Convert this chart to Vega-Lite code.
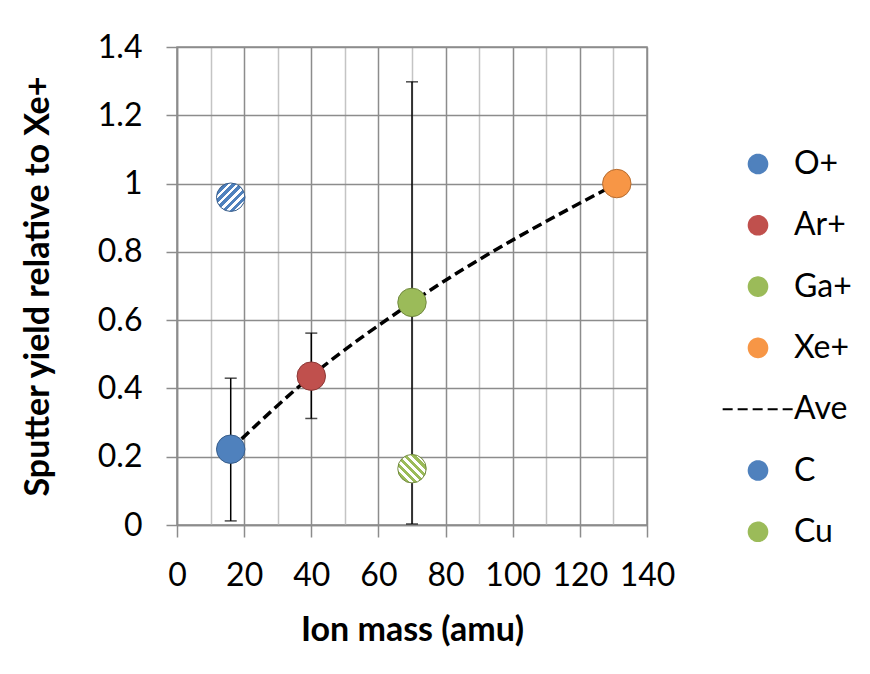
{
  "$schema": "https://vega.github.io/schema/vega-lite/v6.json",
  "width": 470,
  "height": 478,
  "autosize": {"type": "none"},
  "padding": {"left": 177, "top": 47, "right": 223, "bottom": 149},
  "background": "white",
  "config": {
    "view": {"stroke": "#8c8c8c", "strokeWidth": 1.5},
    "font": "Lato",
    "axis": {
      "labelFont": "Lato", "labelFontSize": 32, "labelColor": "#000000",
      "titleFont": "Lato", "titleFontSize": 34, "titleFontWeight": "bold", "titleColor": "#000000",
      "domainColor": "#8c8c8c", "domainWidth": 1.5, "tickWidth": 1.5, "gridWidth": 1.5
    }
  },
  "datasets": {
    "pts": [
      {"series": "O+", "mass": 16, "y": 0.222, "lo": 0.012, "hi": 0.43},
      {"series": "Ar+", "mass": 40, "y": 0.436, "lo": 0.312, "hi": 0.562},
      {"series": "Ga+", "mass": 70, "y": 0.652, "lo": 0.003, "hi": 1.298},
      {"series": "Xe+", "mass": 131, "y": 1.0},
      {"series": "C", "mass": 16, "y": 0.96},
      {"series": "Cu", "mass": 70, "y": 0.165}
    ],
    "ave": [
      {"series": "Ave", "mass": 16, "y": 0.222},
      {"series": "Ave", "mass": 40, "y": 0.436},
      {"series": "Ave", "mass": 70, "y": 0.652},
      {"series": "Ave", "mass": 131, "y": 1.0}
    ]
  },
  "encoding": {
    "x": {
      "field": "mass", "type": "quantitative",
      "scale": {"domain": [0, 140], "nice": false, "zero": false},
      "axis": {
        "title": "Ion mass (amu)",
        "values": [0, 10, 20, 30, 40, 50, 60, 70, 80, 90, 100, 110, 120, 130, 140],
        "labelExpr": "datum.value % 20 === 0 ? datum.label : ''",
        "gridColor": {"condition": {"test": "datum.value % 20 === 0", "value": "#8c8c8c"}, "value": "#c4c4c4"},
        "tickColor": {"condition": {"test": "datum.value % 20 === 0", "value": "#8c8c8c"}, "value": "transparent"},
        "tickSize": 12,
        "labelPadding": 23,
        "titlePadding": 22,
        "labelFlush": false,
        "labelOverlap": false
      }
    },
    "y": {
      "field": "y", "type": "quantitative",
      "scale": {"domain": [0, 1.4], "nice": false},
      "axis": {
        "title": "Sputter yield relative to Xe+",
        "values": [0, 0.2, 0.4, 0.6, 0.8, 1, 1.2, 1.4],
        "format": "~g",
        "gridColor": "#8c8c8c",
        "tickColor": "#8c8c8c",
        "tickSize": 11,
        "labelPadding": 24,
        "titlePadding": 42,
        "labelFlush": false,
        "labelOverlap": false
      }
    }
  },
  "layer": [
    {
      "data": {"name": "pts"},
      "transform": [{"filter": "isValid(datum.lo)"}],
      "mark": {"type": "errorbar", "ticks": {"size": 12, "color": "#000000", "thickness": 1.5}, "rule": {"color": "#000000", "strokeWidth": 1.5}},
      "encoding": {
        "y": {"field": "lo", "type": "quantitative"},
        "y2": {"field": "hi"}
      }
    },
    {
      "data": {"name": "ave"},
      "mark": {"type": "line", "strokeWidth": 3.5, "interpolate": "monotone"},
      "encoding": {
        "color": {"field": "series", "type": "nominal"},
        "strokeDash": {
          "field": "series", "type": "nominal",
          "scale": {
            "domain": ["O+", "Ar+", "Ga+", "Xe+", "Ave", "C", "Cu"],
            "range": [[1, 0], [1, 0], [1, 0], [1, 0], [10, 5], [1, 0], [1, 0]]
          }
        }
      }
    },
    {
      "data": {"name": "pts"},
      "transform": [{"filter": "datum.series !== 'C' && datum.series !== 'Cu'"}],
      "mark": {"type": "point", "filled": true, "size": 810, "strokeWidth": 1, "opacity": 1},
      "encoding": {
        "color": {
          "field": "series", "type": "nominal",
          "scale": {
            "domain": ["O+", "Ar+", "Ga+", "Xe+", "Ave", "C", "Cu"],
            "range": ["#4F81BD", "#C0504D", "#9BBB59", "#F79646", "#000000", "#4F81BD", "#9BBB59"]
          },
          "legend": {
            "title": null,
            "orient": "none",
            "legendX": 565,
            "legendY": 101,
            "labelFont": "Lato",
            "labelFontSize": 32,
            "labelColor": "#000000",
            "symbolSize": 346,
            "symbolStrokeWidth": 2,
            "labelOffset": 20,
            "rowPadding": 29.3
          }
        },
        "shape": {
          "field": "series", "type": "nominal",
          "scale": {
            "domain": ["O+", "Ar+", "Ga+", "Xe+", "Ave", "C", "Cu"],
            "range": ["circle", "circle", "circle", "circle", "M-3.8,0L3.8,0", "circle", "circle"]
          }
        },
        "stroke": {
          "field": "series", "type": "nominal",
          "scale": {
            "domain": ["O+", "Ar+", "Ga+", "Xe+", "Ave", "C", "Cu"],
            "range": ["#385D8A", "#8C3836", "#71893F", "#B66D31", "#000000", "#385D8A", "#71893F"]
          }
        }
      }
    },
    {
      "data": {"name": "pts"},
      "transform": [{"filter": "datum.series === 'C'"}],
      "mark": {"type": "point", "shape": "circle", "size": 810, "strokeWidth": 1, "opacity": 1, "stroke": "#385D8A",
        "fill": {"gradient": "linear", "x1": 0, "y1": 0, "x2": 1, "y2": 1, "stops": [
          {"offset": 0, "color": "#4F81BD"}, {"offset": 0.0786, "color": "#4F81BD"},
          {"offset": 0.0786, "color": "#ffffff"}, {"offset": 0.1429, "color": "#ffffff"},
          {"offset": 0.1429, "color": "#4F81BD"}, {"offset": 0.2214, "color": "#4F81BD"},
          {"offset": 0.2214, "color": "#ffffff"}, {"offset": 0.2857, "color": "#ffffff"},
          {"offset": 0.2857, "color": "#4F81BD"}, {"offset": 0.3643, "color": "#4F81BD"},
          {"offset": 0.3643, "color": "#ffffff"}, {"offset": 0.4286, "color": "#ffffff"},
          {"offset": 0.4286, "color": "#4F81BD"}, {"offset": 0.5071, "color": "#4F81BD"},
          {"offset": 0.5071, "color": "#ffffff"}, {"offset": 0.5714, "color": "#ffffff"},
          {"offset": 0.5714, "color": "#4F81BD"}, {"offset": 0.65, "color": "#4F81BD"},
          {"offset": 0.65, "color": "#ffffff"}, {"offset": 0.7143, "color": "#ffffff"},
          {"offset": 0.7143, "color": "#4F81BD"}, {"offset": 0.7929, "color": "#4F81BD"},
          {"offset": 0.7929, "color": "#ffffff"}, {"offset": 0.8571, "color": "#ffffff"},
          {"offset": 0.8571, "color": "#4F81BD"}, {"offset": 0.9357, "color": "#4F81BD"},
          {"offset": 0.9357, "color": "#ffffff"}, {"offset": 1, "color": "#ffffff"}
        ]}
      },
      "encoding": {}
    },
    {
      "data": {"name": "pts"},
      "transform": [{"filter": "datum.series === 'Cu'"}],
      "mark": {"type": "point", "shape": "circle", "size": 810, "strokeWidth": 1, "opacity": 1, "stroke": "#71893F",
        "fill": {"gradient": "linear", "x1": 0, "y1": 1, "x2": 1, "y2": 0, "stops": [
          {"offset": 0, "color": "#9BBB59"}, {"offset": 0.0786, "color": "#9BBB59"},
          {"offset": 0.0786, "color": "#ffffff"}, {"offset": 0.1429, "color": "#ffffff"},
          {"offset": 0.1429, "color": "#9BBB59"}, {"offset": 0.2214, "color": "#9BBB59"},
          {"offset": 0.2214, "color": "#ffffff"}, {"offset": 0.2857, "color": "#ffffff"},
          {"offset": 0.2857, "color": "#9BBB59"}, {"offset": 0.3643, "color": "#9BBB59"},
          {"offset": 0.3643, "color": "#ffffff"}, {"offset": 0.4286, "color": "#ffffff"},
          {"offset": 0.4286, "color": "#9BBB59"}, {"offset": 0.5071, "color": "#9BBB59"},
          {"offset": 0.5071, "color": "#ffffff"}, {"offset": 0.5714, "color": "#ffffff"},
          {"offset": 0.5714, "color": "#9BBB59"}, {"offset": 0.65, "color": "#9BBB59"},
          {"offset": 0.65, "color": "#ffffff"}, {"offset": 0.7143, "color": "#ffffff"},
          {"offset": 0.7143, "color": "#9BBB59"}, {"offset": 0.7929, "color": "#9BBB59"},
          {"offset": 0.7929, "color": "#ffffff"}, {"offset": 0.8571, "color": "#ffffff"},
          {"offset": 0.8571, "color": "#9BBB59"}, {"offset": 0.9357, "color": "#9BBB59"},
          {"offset": 0.9357, "color": "#ffffff"}, {"offset": 1, "color": "#ffffff"}
        ]}
      },
      "encoding": {}
    }
  ]
}
